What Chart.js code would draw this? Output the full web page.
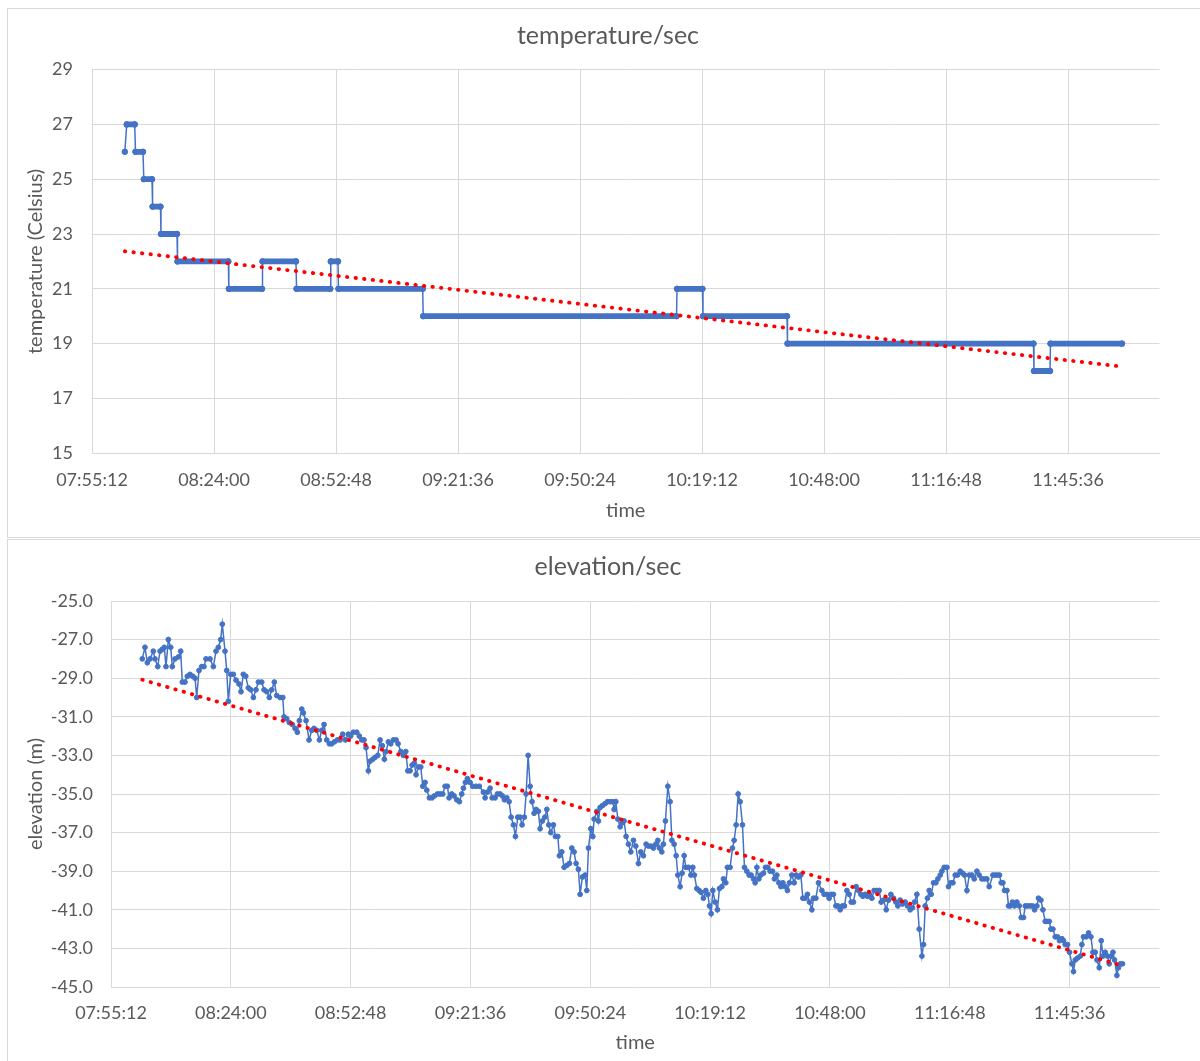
<!DOCTYPE html>
<html>
<head>
<meta charset="utf-8">
<script src="https://cdn.jsdelivr.net/npm/chart.js@4/dist/chart.umd.min.js"></script>
<style>
html,body{margin:0;padding:0;background:#fff;overflow:hidden;}
.frame{position:absolute;border:1px solid #d9d9d9;background:#fff;}
#f1{left:7px;top:8px;width:1200px;height:528px;}
#f2{left:7px;top:539px;width:1200px;height:521px;}
canvas{display:block;}
</style>
</head>
<body>
<div class="frame" id="f1"><canvas id="c1" width="1200" height="528"></canvas></div>
<div class="frame" id="f2"><canvas id="c2" width="1200" height="521"></canvas></div>
<script>
// ---------- shared time axis ----------
const xTickLabels = ["07:55:12","08:24:00","08:52:48","09:21:36","09:50:24","10:19:12","10:48:00","11:16:48","11:45:36"];
const xAxisMax = "12:07:12";

// ---------- temperature/sec (start & end of each flat run) ----------
const tempTimes = ["08:02:57","08:03:24","08:05:17","08:05:28","08:07:14","08:07:26","08:09:22","08:09:30","08:11:22",
  "08:11:29","08:15:16","08:15:23","08:27:23","08:27:30","08:35:20","08:35:27","08:43:21","08:43:29","08:51:27",
  "08:51:34","08:53:16","08:53:23","09:13:16","09:13:23","10:13:11","10:13:18","10:19:18","10:19:26","10:39:16",
  "10:39:23","11:37:27","11:37:34","11:41:21","11:41:28","11:58:21"];
const tempValues = [26, 27,27, 26,26, 25,25, 24,24,
  23,23, 22,22, 21,21, 22,22, 21,21,
  22,22, 21,21, 20,20, 21,21, 20,20,
  19,19, 18,18, 19,19];
const tempTrendTimes = ["08:02:57","11:58:21"];
const tempTrendValues = [22.37, 18.16];
const tempTicks = [15,17,19,21,23,25,27,29];

// ---------- elevation/sec ----------
const elevTimes = [
"08:02:43","08:03:22","08:03:56","08:04:35","08:05:22","08:05:47","08:06:26","08:06:59","08:07:32","08:08:01",
"08:08:25","08:08:59","08:09:33","08:09:56","08:10:35","08:11:23","08:11:57","08:12:20","08:12:59","08:13:33",
"08:14:11","08:14:50","08:15:24","08:15:48","08:16:21","08:17:00","08:17:33","08:18:02","08:19:00","08:19:48",
"08:20:26","08:21:00","08:21:34","08:21:57","08:22:36","08:23:01","08:23:24","08:23:58","08:24:36","08:25:15",
"08:25:58","08:26:27","08:27:00","08:27:35","08:28:12","08:28:47","08:29:25","08:30:03","08:30:37","08:31:26",
"08:31:59","08:32:38","08:33:15","08:33:50","08:34:27","08:35:02","08:35:50","08:36:29","08:36:47","08:37:26",
"08:38:04","08:38:47","08:39:26","08:39:59","08:40:28","08:41:03","08:41:26","08:42:05","08:42:48",
"08:43:27","08:44:00","08:44:39","08:45:17","08:45:51","08:46:24","08:47:03","08:47:41","08:48:15","08:48:53",
"08:49:36","08:50:15","08:50:54","08:51:32","08:52:15","08:52:49","08:53:27","08:54:16","08:54:53","08:55:28",
"08:56:01","08:56:30","08:57:03","08:57:28","08:58:07","08:58:40","08:59:19","08:59:52","09:00:25","09:00:54",
"09:01:19","09:01:52","09:02:26","09:03:04","09:03:43","09:04:12","09:04:51","09:05:28","09:06:03","09:06:32",
"09:07:05","09:07:34","09:08:07","09:08:31","09:09:04","09:09:39","09:10:08","09:10:41","09:11:06","09:11:43",
"09:12:22","09:12:55","09:13:39","09:14:17","09:14:56","09:15:30","09:16:03","09:16:27","09:17:06","09:17:39",
"09:18:18","09:18:56","09:19:30","09:19:54","09:20:22","09:20:51","09:21:30","09:22:09","09:22:57","09:23:44",
"09:24:42","09:25:07","09:25:40","09:26:19","09:26:48","09:27:31","09:28:04","09:28:43","09:29:16","09:29:45",
"09:30:20","09:30:53","09:31:22","09:31:55","09:32:24","09:32:58","09:33:31","09:34:00","09:34:33","09:34:58",
"09:35:27","09:35:56","09:36:24","09:36:53","09:37:22","09:37:55","09:38:20","09:38:53","09:39:28","09:39:57",
"09:40:25","09:40:54","09:41:32","09:42:01","09:42:35","09:42:58","09:43:33","09:44:06","09:44:45","09:45:23",
"09:45:57","09:46:30","09:46:59","09:47:32","09:47:57","09:48:30","09:49:09","09:49:33","09:49:57","09:50:31",
"09:51:00","09:51:19","09:51:58","09:52:21","09:52:45","09:53:19","09:53:57","09:54:31","09:55:10","09:55:48",
"09:56:07","09:56:32","09:57:01","09:57:34","09:58:03","09:58:31","09:59:00","09:59:34","10:00:08","10:00:46",
"10:01:20","10:01:58","10:02:32","10:03:10","10:03:49","10:04:22",
"10:05:01","10:05:34","10:06:09","10:06:38","10:07:01","10:07:35","10:07:58","10:08:27","10:09:02","10:09:35",
"10:10:00","10:10:33","10:11:02","10:11:26","10:11:59","10:12:28","10:12:57","10:13:21","10:13:59","10:14:34",
"10:15:02","10:15:25","10:16:00","10:16:33","10:17:02","10:17:35","10:18:10","10:18:39","10:19:02","10:19:26",
"10:19:51","10:20:24","10:20:57","10:21:26","10:22:01","10:22:24","10:22:58","10:23:21","10:24:00","10:24:34",
"10:24:58","10:25:27","10:25:56","10:26:25","10:26:58","10:27:27","10:28:01","10:28:34","10:29:03","10:29:37",
"10:30:01","10:30:26","10:30:54","10:31:23","10:32:01","10:32:30","10:33:04","10:33:37","10:34:11","10:34:39",
"10:35:14","10:35:43","10:36:12","10:36:41","10:37:14","10:37:47","10:38:16","10:38:50","10:39:24","10:39:52",
"10:40:26","10:41:00","10:41:29","10:42:02","10:42:35","10:43:04","10:43:39","10:44:02","10:44:37","10:45:14",
"10:46:03","10:46:36","10:47:15","10:47:48","10:48:17","10:48:50","10:49:25","10:49:54","10:50:27","10:51:00",
"10:51:29","10:52:04","10:52:37","10:53:06","10:53:39","10:54:18","10:54:51","10:55:26","10:55:55","10:56:28",
"10:57:01","10:57:30","10:58:04","10:58:37","10:59:16","10:59:50","11:00:18","11:00:52","11:01:31","11:02:04",
"11:02:38","11:03:16","11:03:50","11:04:19","11:04:52","11:05:26","11:06:05","11:06:38","11:07:17","11:07:50",
"11:08:19","11:08:53","11:09:27","11:10:06","11:10:29","11:10:53","11:11:26","11:11:51","11:12:20","11:12:53",
"11:13:27","11:13:56","11:14:30","11:14:54","11:15:27","11:16:06","11:16:29","11:17:04","11:17:33","11:18:06",
"11:18:39","11:19:18","11:19:51","11:20:20","11:20:55","11:21:28","11:22:07","11:22:40","11:23:19","11:23:52",
"11:24:31","11:25:04","11:25:43","11:26:16",
"11:27:10","11:27:43","11:28:16","11:28:45","11:29:09","11:29:34","11:29:57","11:30:32","11:30:55","11:31:19",
"11:31:52","11:32:21","11:32:56","11:33:29","11:33:58","11:34:31","11:34:56","11:35:29","11:36:08","11:36:41",
"11:37:10","11:37:44","11:38:07","11:38:42","11:39:11","11:39:44","11:40:09","11:40:42","11:41:06","11:41:35",
"11:42:08","11:42:41","11:43:10","11:43:45","11:44:08","11:44:32","11:45:06","11:45:34","11:46:09","11:46:32",
"11:46:57","11:47:30","11:48:09","11:48:33","11:48:56","11:49:35","11:50:09","11:50:43","11:51:12","11:51:45",
"11:52:10","11:52:43","11:53:12","11:53:36","11:54:09","11:54:43","11:55:07","11:55:36","11:56:01","11:56:24",
"11:56:58","11:57:21","11:57:46","11:58:19"];
const elevValues = [
-28.0,-27.4,-28.2,-28.0,-27.6,-28.0,-28.4,-27.6,-27.5,-27.4,
-28.4,-27.0,-27.4,-28.4,-28.0,-27.9,-27.6,-29.2,-29.2,-28.9,
-28.8,-28.9,-29.0,-30.0,-28.6,-28.4,-28.4,-28.0,-28.0,-28.4,
-27.6,-27.4,-27.0,-26.2,-27.6,-28.6,-30.2,-28.8,-28.8,-29.1,
-29.3,-29.7,-28.8,-28.9,-29.5,-29.6,-30.0,-29.6,-29.2,-29.2,
-29.6,-29.7,-30.0,-29.6,-29.2,-29.9,-30.0,-30.0,-31.0,-31.1,
-31.3,-31.4,-31.6,-31.8,-31.2,-30.6,-30.8,-31.2,-32.2,
-31.7,-31.6,-31.7,-32.2,-31.7,-31.4,-32.2,-32.4,-32.4,-32.3,
-32.2,-32.2,-31.9,-32.2,-31.9,-32.0,-31.8,-31.8,-32.0,-32.2,
-32.2,-32.6,-33.8,-33.3,-33.2,-33.1,-33.0,-32.2,-32.5,-33.2,
-32.8,-32.3,-32.4,-32.2,-32.2,-32.4,-32.8,-33.0,-32.8,-33.8,
-33.8,-33.5,-33.4,-34.0,-33.6,-33.6,-34.6,-34.4,-34.8,-35.2,
-35.2,-35.1,-35.0,-35.0,-35.0,-34.6,-34.6,-35.2,-35.0,-35.1,
-35.3,-35.4,-35.0,-34.7,-34.4,-34.2,-34.4,-34.6,-34.6,-34.6,
-34.9,-35.2,-34.9,-34.7,-35.2,-35.2,-35.0,-35.0,-35.1,-35.3,
-35.2,-35.4,-36.2,-36.6,-37.2,-36.2,-36.2,-36.6,-36.2,-35.0,
-33.0,-34.6,-35.4,-36.0,-35.8,-35.9,-36.8,-36.4,-36.2,-35.8,
-36.6,-37.0,-36.6,-37.2,-37.2,-38.2,-38.0,-38.8,-38.7,-38.6,
-37.8,-38.0,-38.6,-38.9,-40.2,-39.3,-39.2,-40.0,-37.8,-36.8,
-37.2,-36.3,-35.9,-36.4,-35.7,-35.6,-35.5,-35.4,-35.4,-35.4,
-35.8,-35.4,-36.3,-36.7,-36.5,-36.4,-37.2,-37.6,-38.0,-37.4,
-37.7,-38.6,-38.0,-38.2,-37.6,-37.7,
-37.7,-37.8,-37.6,-37.4,-37.8,-38.0,-37.6,-36.4,-34.6,-35.4,
-37.4,-37.6,-38.2,-39.2,-39.8,-39.1,-38.2,-38.8,-38.8,-39.2,
-38.8,-39.2,-39.9,-40.0,-40.1,-40.4,-40.0,-40.2,-40.8,-41.2,
-40.0,-40.6,-41.0,-39.9,-39.8,-39.4,-39.6,-38.8,-38.8,-37.8,
-37.4,-36.6,-35.0,-35.4,-36.6,-38.8,-39.0,-39.2,-39.2,-39.4,
-39.6,-38.8,-39.4,-39.2,-39.1,-38.8,-38.8,-39.0,-39.0,-39.4,
-39.2,-39.6,-39.8,-39.6,-39.8,-40.0,-39.6,-39.2,-39.6,-39.2,
-39.3,-39.2,-40.4,-40.4,-40.2,-40.6,-41.0,-40.4,-40.4,-39.6,
-40.0,-40.2,-40.2,-40.4,-40.2,-40.2,-40.8,-40.8,-41.0,-40.8,
-40.8,-40.0,-40.2,-40.6,-40.6,-39.8,-40.0,-40.2,-40.3,-40.2,
-40.3,-40.2,-40.4,-40.0,-40.0,-40.0,-40.6,-40.5,-41.0,-40.5,
-40.2,-40.4,-40.6,-40.8,-40.5,-40.7,-40.6,-40.8,-41.0,-40.9,
-40.6,-40.2,-42.0,-43.4,-42.8,-40.8,-40.4,-40.0,-40.2,-39.6,
-39.6,-39.4,-39.2,-39.0,-38.8,-38.8,-39.8,-39.6,-39.6,-39.2,
-39.2,-39.0,-39.1,-39.2,-40.0,-39.2,-39.2,-39.4,-39.0,-39.2,
-39.4,-39.4,-39.4,-39.8,
-39.2,-39.2,-39.2,-39.2,-39.6,-39.6,-40.0,-40.0,-40.8,-40.8,
-40.6,-40.8,-40.6,-40.8,-41.4,-41.4,-40.8,-40.8,-40.8,-40.8,
-41.0,-40.8,-40.4,-40.5,-41.0,-41.6,-41.6,-41.6,-42.0,-42.0,
-42.4,-42.4,-42.6,-42.5,-42.6,-42.8,-42.8,-43.2,-43.8,-44.2,
-43.6,-43.5,-43.4,-42.8,-42.4,-42.4,-42.2,-42.4,-43.2,-43.2,
-43.6,-44.0,-42.6,-43.4,-43.2,-43.4,-43.8,-43.4,-43.2,-43.6,
-44.4,-44.0,-43.8,-43.8];
const elevTrendTimes = ["08:02:43","11:58:19"];
const elevTrendValues = [-29.08, -43.9];
const elevTicks = [-45,-43,-41,-39,-37,-35,-33,-31,-29,-27,-25];

// ---------- helpers ----------
const toSec = s => { const p = s.split(':').map(Number); return p[0]*3600 + p[1]*60 + p[2]; };
const fmtTime = v => { v = Math.round(v); const h = Math.floor(v/3600), m = Math.floor((v%3600)/60), s = v%60;
  return [h,m,s].map(n => String(n).padStart(2,'0')).join(':'); };
const pts = (times, vals) => times.map((t,i) => ({x: toSec(t), y: vals[i]}));

Chart.defaults.font.family = 'Lato, "Open Sans", sans-serif';
Chart.defaults.color = '#595959';
const GRID = '#d9d9d9', BLUE = '#4472C4', RED = '#FF0000', TXT = '#595959';

function buildOptions(o) {
  return {
    responsive: false, animation: false, events: [],
    layout: {padding: {left: 0, right: 0, top: 0, bottom: 0}},
    plugins: {
      legend: {display: false}, tooltip: {enabled: false},
      title: {display: true, text: o.title, color: TXT, font: {size: 25, weight: 'normal'},
              padding: {top: o.titleTop, bottom: o.titleBottom}}
    },
    scales: {
      x: {
        type: 'linear', position: 'bottom',
        min: toSec(xTickLabels[0]), max: toSec(xAxisMax),
        afterBuildTicks: s => { s.ticks = xTickLabels.map(t => ({value: toSec(t)})); },
        afterFit: s => { s.height = o.xHeight; },
        grid: {color: GRID, lineWidth: 1, drawTicks: false},
        border: {color: GRID, width: 1},
        ticks: {padding: o.xTickPad, font: {size: 18}, color: TXT, maxRotation: 0, autoSkip: false,
                callback: v => fmtTime(v)},
        title: {display: true, text: 'time', color: TXT, font: {size: 20}, padding: {top: 0, bottom: o.xTitlePad}}
      },
      y: {
        type: 'linear', position: 'left',
        min: o.yTicks[0], max: o.yTicks[o.yTicks.length-1],
        afterBuildTicks: s => { s.ticks = o.yTicks.map(v => ({value: v})); },
        afterFit: s => { s.width = o.yWidth; },
        grid: {color: GRID, lineWidth: 1, drawTicks: false},
        border: {color: GRID, width: 1},
        ticks: {padding: o.yTickPad, font: {size: 18}, color: TXT, callback: v => o.yFmt(v)},
        title: {display: true, text: o.yTitle, color: TXT, font: {size: 20}, padding: {top: 16, bottom: 0}}
      },
      yR: {
        type: 'linear', position: 'right', axis: 'y',
        afterFit: s => { s.width = o.rightGap; },
        grid: {display: false, drawOnChartArea: false}, border: {display: false},
        ticks: {display: false}
      }
    }
  };
}

function trendSet(times, vals) {
  return {data: pts(times, vals), borderColor: RED, borderWidth: 3.8, borderDash: [0.5, 8.1],
          borderCapStyle: 'round', pointRadius: 0, fill: false, tension: 0};
}

new Chart(document.getElementById('c1'), {
  type: 'line',
  data: {datasets: [
    trendSet(tempTrendTimes, tempTrendValues),
    {data: pts(tempTimes, tempValues), borderColor: BLUE, backgroundColor: BLUE, borderWidth: 1.5,
     pointRadius: 2.8, pointBorderWidth: 1, pointBackgroundColor: BLUE, pointBorderColor: BLUE,
     borderCapStyle: 'round', borderJoinStyle: 'round', tension: 0, fill: false,
     segment: {borderWidth: c => (c.p0.parsed.y === c.p1.parsed.y ? 5.8 : 1.5)}}
  ]},
  options: buildOptions({title: 'temperature/sec', titleTop: 11.5, titleBottom: 19.1,
    xHeight: 83.8, xTickPad: 16, xTitlePad: 14,
    yTicks: tempTicks, yWidth: 84, yTickPad: 19, yFmt: v => String(v),
    yTitle: 'temperature (Celsius)', rightGap: 48.5})
});

new Chart(document.getElementById('c2'), {
  type: 'line',
  data: {datasets: [
    trendSet(elevTrendTimes, elevTrendValues),
    {data: pts(elevTimes, elevValues), borderColor: BLUE, backgroundColor: BLUE, borderWidth: 1.5,
     pointRadius: 2.4, pointBorderWidth: 1, pointBackgroundColor: BLUE, pointBorderColor: BLUE,
     tension: 0, fill: false}
  ]},
  options: buildOptions({title: 'elevation/sec', titleTop: 12, titleBottom: 19,
    xHeight: 74, xTickPad: 15.8, xTitlePad: 6.7,
    yTicks: elevTicks, yWidth: 103, yTickPad: 18, yFmt: v => v.toFixed(1),
    yTitle: 'elevation (m)', rightGap: 48.5})
});
</script>
</body>
</html>
